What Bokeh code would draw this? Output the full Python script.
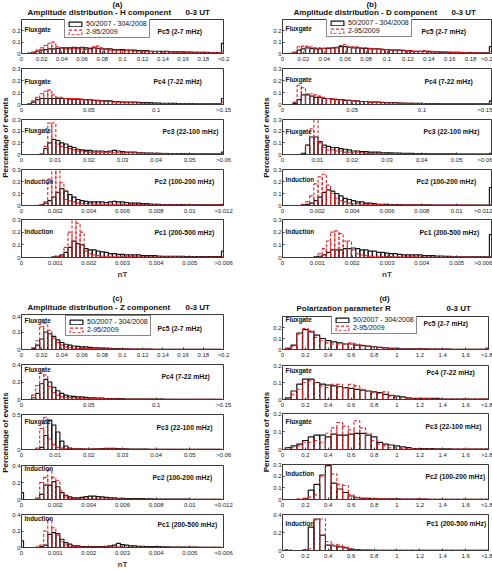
import numpy as np
from bokeh.plotting import figure
from bokeh.layouts import column, row
from bokeh.models import (ColumnDataSource, FixedTicker, CustomJSTickFormatter,
                          Label, Legend, LegendItem, Range1d)
from bokeh.embed import file_html
from bokeh.resources import INLINE

# ------------------------------------------------------------------ data
SERIES_LABELS = ["50/2007 - 304/2008", "2-95/2009"]
BANDS = ["Pc5 (2-7 mHz)", "Pc4 (7-22 mHz)", "Pc3 (22-100 mHz)",
         "Pc2 (100-200 mHz)", "Pc1 (200-500 mHz)"]
SENSORS = ["Fluxgate", "Fluxgate", "Fluxgate", "Induction", "Induction"]
PANEL_TAGS = ["(a)", "(b)", "(c)", "(d)"]
PANEL_TITLES = ["Amplitude distribution - H component",
                "Amplitude distribution - D component",
                "Amplitude distribution - Z component",
                "Polarization parameter R"]
TIME_LABEL = "0-3 UT"
X_UNIT = "nT"
Y_TITLE = "Percentage of events"

AMP_XMAX = [0.2, 0.15, 0.06, 0.012, 0.006]
AMP_NBINS = 50
R_XMAX = 1.8
R_BIN = 0.05

AMP_XTICKS = [
    [0, 0.02, 0.04, 0.06, 0.08, 0.1, 0.12, 0.14, 0.16, 0.18, 0.2],
    [0, 0.05, 0.1, 0.15],
    [0, 0.01, 0.02, 0.03, 0.04, 0.05, 0.06],
    [0, 0.002, 0.004, 0.006, 0.008, 0.01, 0.012],
    [0, 0.001, 0.002, 0.003, 0.004, 0.005, 0.006],
]
AMP_XLABELS = [
    ["0", "0.02", "0.04", "0.06", "0.08", "0.1", "0.12", "0.14", "0.16", "0.18", ">0.2"],
    ["0", "0.05", "0.1", ">0.15"],
    ["0", "0.01", "0.02", "0.03", "0.04", "0.05", ">0.06"],
    ["0", "0.002", "0.004", "0.006", "0.008", "0.01", ">0.012"],
    ["0", "0.001", "0.002", "0.003", "0.004", "0.005", ">0.006"],
]
R_XTICKS = [0, 0.2, 0.4, 0.6, 0.8, 1.0, 1.2, 1.4, 1.6, 1.8]
R_XLABELS = ["0", "0.2", "0.4", "0.6", "0.8", "1", "1.2", "1.4", "1.6", ">1.8"]

H_YMAX = [0.3, 0.3, 0.3, 0.3, 0.3]
D_YMAX = [0.3, 0.3, 0.3, 0.3, 0.3]
Z_YMAX = [0.4, 0.4, 0.5, 0.4, 0.4]
R_YMAX = [0.3, 0.2, 0.2, 0.3, 0.4]
H_YTICKS = [[0, 0.1, 0.2], [0, 0.1, 0.2, 0.3], [0, 0.1, 0.2, 0.3], [0, 0.1, 0.2, 0.3], [0, 0.1, 0.2, 0.3]]
D_YTICKS = [[0, 0.1, 0.2], [0, 0.1, 0.2, 0.3], [0, 0.1, 0.2, 0.3], [0, 0.1, 0.2, 0.3], [0, 0.1, 0.2, 0.3]]
Z_YTICKS = [[0, 0.2, 0.4], [0, 0.2, 0.4], [0, 0.5], [0, 0.2, 0.4], [0, 0.2, 0.4]]
R_YTICKS = [[0, 0.1, 0.2], [0, 0.1, 0.2], [0, 0.1, 0.2], [0, 0.1, 0.2, 0.3], [0, 0.2, 0.4]]

# ---- (a) H component, 51 bins each (last bin = overflow)
H_PC5_BLACK = [0, 0, 0.003, 0.01, 0.02, 0.03, 0.035, 0.04, 0.04, 0.045,
               0.05, 0.05, 0.05, 0.055, 0.05, 0.055, 0.05, 0.045, 0.05, 0.045,
               0.04, 0.04, 0.04, 0.035, 0.035, 0.035, 0.03, 0.03, 0.03, 0.025,
               0.025, 0.025, 0.02, 0.02, 0.02, 0.02, 0.018, 0.015, 0.015, 0.015,
               0.015, 0.012, 0.012, 0.01, 0.01, 0.01, 0.01, 0.008, 0.008, 0.008,
               0.09]
H_PC5_RED = [0, 0, 0, 0.01, 0.03, 0.05, 0.07, 0.09, 0.1, 0.06,
             0.05, 0.04, 0.04, 0.045, 0.04, 0.04, 0.035, 0.04, 0.06, 0.065,
             0.05, 0.04, 0.03, 0.03, 0.03, 0.025, 0.025, 0.025, 0.02, 0.02,
             0.02, 0.02, 0.02, 0.018, 0.018, 0.015, 0.015, 0.015, 0.012, 0.012,
             0.012, 0.01, 0.01, 0.01, 0.01, 0.008, 0.008, 0.008, 0.008, 0.008,
             0.02]
H_PC4_BLACK = [0, 0, 0.005, 0.02, 0.04, 0.05, 0.05, 0.05, 0.05, 0.05,
               0.05, 0.05, 0.045, 0.045, 0.045, 0.04, 0.04, 0.04, 0.035, 0.035,
               0.03, 0.03, 0.03, 0.025, 0.025, 0.02, 0.02, 0.02, 0.02, 0.018,
               0.015, 0.015, 0.015, 0.012, 0.012, 0.01, 0.01, 0.01, 0.01, 0.008,
               0.008, 0.008, 0.008, 0.006, 0.006, 0.006, 0.005, 0.005, 0.005, 0.005,
               0.05]
H_PC4_RED = [0, 0, 0.005, 0.03, 0.06, 0.09, 0.11, 0.12, 0.08, 0.06,
             0.06, 0.05, 0.05, 0.05, 0.05, 0.045, 0.04, 0.04, 0.035, 0.03,
             0.03, 0.025, 0.025, 0.02, 0.02, 0.02, 0.015, 0.015, 0.015, 0.012,
             0.01, 0.01, 0.01, 0.01, 0.008, 0.008, 0.008, 0.006, 0.006, 0.006,
             0.005, 0.005, 0.005, 0.004, 0.004, 0.004, 0.004, 0.003, 0.003, 0.003,
             0.02]
H_PC3_BLACK = [0, 0, 0, 0, 0, 0.002, 0.05, 0.1, 0.13, 0.12,
               0.1, 0.09, 0.07, 0.06, 0.045, 0.04, 0.035, 0.035, 0.03, 0.03,
               0.03, 0.025, 0.03, 0.035, 0.03, 0.025, 0.02, 0.02, 0.02, 0.015,
               0.015, 0.012, 0.012, 0.01, 0.01, 0.008, 0.008, 0.008, 0.008, 0.008,
               0.008, 0.005, 0.005, 0.005, 0.005, 0.005, 0.005, 0.005, 0.005, 0.005,
               0.02]
H_PC3_RED = [0, 0, 0, 0, 0, 0.005, 0.07, 0.27, 0.27, 0.09,
             0.07, 0.06, 0.05, 0.04, 0.03, 0.03, 0.025, 0.02, 0.02, 0.02,
             0.02, 0.02, 0.02, 0.015, 0.015, 0.015, 0.015, 0.015, 0.015, 0.012,
             0.012, 0.01, 0.01, 0.01, 0.01, 0.01, 0.01, 0.008, 0.008, 0.008,
             0.006, 0.005, 0.005, 0.005, 0.005, 0.005, 0.005, 0.005, 0.005, 0.005,
             0.01]
H_PC2_BLACK = [0, 0, 0, 0, 0, 0.005, 0.02, 0.04, 0.07, 0.11,
               0.14, 0.12, 0.09, 0.07, 0.05, 0.04, 0.035, 0.03, 0.03, 0.03,
               0.03, 0.025, 0.03, 0.035, 0.03, 0.03, 0.025, 0.02, 0.02, 0.02,
               0.015, 0.015, 0.012, 0.01, 0.01, 0.008, 0.008, 0.008, 0.008, 0.008,
               0.008, 0.005, 0.005, 0.005, 0.005, 0.005, 0.005, 0.005, 0.005, 0.005,
               0.01]
H_PC2_RED = [0, 0, 0, 0, 0, 0.005, 0.03, 0.22, 0.3, 0.3,
             0.19, 0.05, 0.04, 0.03, 0.02, 0.015, 0.015, 0.015, 0.01, 0.01,
             0.01, 0.01, 0.01, 0.01, 0.01, 0.01, 0.008, 0.008, 0.008, 0.008,
             0.006, 0.006, 0.006, 0.005, 0.005, 0.005, 0.005, 0.005, 0.005, 0.005,
             0.004, 0.004, 0.004, 0.004, 0.004, 0.003, 0.003, 0.003, 0.003, 0.003,
             0.005]
H_PC1_BLACK = [0, 0, 0, 0, 0, 0, 0, 0, 0.005, 0.01,
               0.02, 0.04, 0.08, 0.13, 0.11, 0.1, 0.07, 0.06, 0.06, 0.05,
               0.045, 0.04, 0.03, 0.03, 0.025, 0.025, 0.02, 0.02, 0.02, 0.02,
               0.015, 0.015, 0.015, 0.015, 0.012, 0.01, 0.01, 0.01, 0.01, 0.01,
               0.01, 0.008, 0.008, 0.008, 0.008, 0.008, 0.008, 0.008, 0.008, 0.008,
               0.05]
H_PC1_RED = [0, 0, 0, 0, 0, 0, 0, 0, 0, 0.005,
             0.01, 0.08, 0.2, 0.3, 0.27, 0.2, 0.05, 0.03, 0.02, 0.015,
             0.01, 0.01, 0.01, 0.01, 0.01, 0.01, 0.008, 0.008, 0.008, 0.006,
             0.006, 0.005, 0.005, 0.005, 0.005, 0.005, 0.005, 0.005, 0.005, 0.005,
             0.004, 0.004, 0.004, 0.004, 0.004, 0.004, 0.004, 0.004, 0.004, 0.004,
             0.005]

# ---- (b) D component
D_PC5_BLACK = [0, 0, 0.002, 0.01, 0.03, 0.04, 0.05, 0.045, 0.04, 0.04,
               0.045, 0.045, 0.05, 0.055, 0.06, 0.06, 0.055, 0.05, 0.05, 0.045,
               0.045, 0.04, 0.04, 0.04, 0.035, 0.035, 0.03, 0.03, 0.03, 0.025,
               0.025, 0.02, 0.02, 0.02, 0.02, 0.018, 0.015, 0.015, 0.012, 0.012,
               0.01, 0.01, 0.01, 0.008, 0.008, 0.008, 0.008, 0.006, 0.006, 0.006,
               0.06]
D_PC5_RED = [0, 0, 0, 0.01, 0.06, 0.065, 0.065, 0.06, 0.05, 0.05,
             0.045, 0.05, 0.05, 0.05, 0.07, 0.08, 0.06, 0.06, 0.06, 0.05,
             0.05, 0.045, 0.04, 0.04, 0.04, 0.035, 0.03, 0.03, 0.03, 0.03,
             0.025, 0.025, 0.02, 0.02, 0.025, 0.02, 0.02, 0.015, 0.015, 0.015,
             0.01, 0.01, 0.01, 0.01, 0.008, 0.008, 0.008, 0.006, 0.006, 0.006,
             0.02]
D_PC4_BLACK = [0, 0, 0, 0.01, 0.04, 0.08, 0.08, 0.07, 0.06, 0.06,
               0.05, 0.05, 0.045, 0.04, 0.04, 0.035, 0.035, 0.03, 0.03, 0.025,
               0.025, 0.02, 0.02, 0.02, 0.018, 0.015, 0.015, 0.015, 0.012, 0.012,
               0.01, 0.01, 0.01, 0.01, 0.008, 0.008, 0.008, 0.008, 0.006, 0.006,
               0.006, 0.006, 0.005, 0.005, 0.005, 0.005, 0.005, 0.005, 0.005, 0.005,
               0.03]
D_PC4_RED = [0, 0, 0, 0.02, 0.16, 0.14, 0.09, 0.09, 0.08, 0.07,
             0.06, 0.05, 0.05, 0.045, 0.04, 0.04, 0.035, 0.03, 0.03, 0.025,
             0.025, 0.02, 0.02, 0.02, 0.015, 0.015, 0.015, 0.012, 0.012, 0.01,
             0.01, 0.01, 0.008, 0.008, 0.008, 0.006, 0.006, 0.006, 0.005, 0.005,
             0.005, 0.005, 0.004, 0.004, 0.004, 0.004, 0.003, 0.003, 0.003, 0.003,
             0.01]
D_PC3_BLACK = [0, 0, 0, 0, 0, 0.01, 0.08, 0.15, 0.15, 0.11,
               0.08, 0.07, 0.06, 0.06, 0.05, 0.045, 0.04, 0.03, 0.03, 0.025,
               0.025, 0.02, 0.02, 0.02, 0.015, 0.015, 0.015, 0.012, 0.012, 0.01,
               0.01, 0.01, 0.008, 0.008, 0.008, 0.006, 0.006, 0.006, 0.005, 0.005,
               0.005, 0.005, 0.004, 0.004, 0.004, 0.004, 0.003, 0.003, 0.003, 0.003,
               0.01]
D_PC3_RED = [0, 0, 0, 0, 0, 0.005, 0.08, 0.22, 0.3, 0.1,
             0.06, 0.04, 0.04, 0.03, 0.03, 0.02, 0.02, 0.015, 0.015, 0.015,
             0.01, 0.01, 0.01, 0.01, 0.01, 0.01, 0.008, 0.008, 0.008, 0.006,
             0.006, 0.006, 0.005, 0.005, 0.005, 0.005, 0.005, 0.004, 0.004, 0.004,
             0.004, 0.004, 0.003, 0.003, 0.003, 0.003, 0.003, 0.003, 0.003, 0.003,
             0.005]
D_PC2_BLACK = [0, 0, 0, 0, 0, 0.005, 0.01, 0.02, 0.04, 0.07,
               0.11, 0.13, 0.12, 0.1, 0.08, 0.06, 0.05, 0.04, 0.03, 0.03,
               0.02, 0.02, 0.015, 0.01, 0.01, 0.01, 0.008, 0.008, 0.008, 0.006,
               0.006, 0.006, 0.005, 0.005, 0.005, 0.005, 0.004, 0.004, 0.004, 0.004,
               0.004, 0.003, 0.003, 0.003, 0.003, 0.003, 0.003, 0.003, 0.003, 0.003,
               0.15]
D_PC2_RED = [0, 0, 0, 0, 0, 0.01, 0.03, 0.08, 0.18, 0.24,
             0.26, 0.17, 0.1, 0.06, 0.04, 0.03, 0.02, 0.015, 0.015, 0.01,
             0.01, 0.01, 0.008, 0.008, 0.008, 0.006, 0.006, 0.005, 0.005, 0.005,
             0.005, 0.004, 0.004, 0.004, 0.004, 0.003, 0.003, 0.003, 0.003, 0.003,
             0.003, 0.003, 0.003, 0.003, 0.003, 0.002, 0.002, 0.002, 0.002, 0.002,
             0.005]
D_PC1_BLACK = [0, 0, 0, 0, 0, 0, 0, 0, 0.005, 0.01,
               0.02, 0.04, 0.06, 0.06, 0.06, 0.07, 0.07, 0.075, 0.07, 0.06,
               0.06, 0.05, 0.05, 0.04, 0.04, 0.035, 0.03, 0.03, 0.025, 0.02,
               0.02, 0.02, 0.02, 0.02, 0.015, 0.015, 0.015, 0.012, 0.012, 0.01,
               0.01, 0.005, 0.005, 0.005, 0.005, 0.005, 0.005, 0.005, 0.005, 0.005,
               0.18]
D_PC1_RED = [0, 0, 0, 0, 0, 0, 0, 0, 0, 0.03,
             0.07, 0.13, 0.2, 0.21, 0.19, 0.13, 0.13, 0.06, 0.03, 0.02,
             0.015, 0.01, 0.01, 0.01, 0.008, 0.008, 0.008, 0.006, 0.006, 0.005,
             0.005, 0.005, 0.005, 0.004, 0.004, 0.004, 0.004, 0.004, 0.003, 0.003,
             0.003, 0.003, 0.003, 0.003, 0.003, 0.003, 0.003, 0.003, 0.003, 0.003,
             0.005]

# ---- (c) Z component
Z_PC5_BLACK = [0, 0, 0, 0.01, 0.05, 0.12, 0.2, 0.18, 0.15, 0.11,
               0.08, 0.06, 0.05, 0.04, 0.035, 0.03, 0.03, 0.025, 0.02, 0.02,
               0.015, 0.015, 0.012, 0.01, 0.01, 0.008, 0.008, 0.006, 0.006, 0.005,
               0.005, 0.004, 0.004, 0.003, 0.003, 0.003, 0.003, 0.002, 0.002, 0.002,
               0.002, 0.002, 0.002, 0.002, 0.002, 0.002, 0.002, 0.002, 0.002, 0.002,
               0]
Z_PC5_RED = [0, 0, 0, 0.02, 0.1, 0.26, 0.3, 0.22, 0.13, 0.08,
             0.05, 0.03, 0.02, 0.015, 0.015, 0.012, 0.012, 0.01, 0.01, 0.01,
             0.008, 0.008, 0.008, 0.006, 0.006, 0.006, 0.005, 0.005, 0.005, 0.005,
             0.004, 0.004, 0.004, 0.003, 0.003, 0.003, 0.003, 0.003, 0.002, 0.002,
             0.002, 0.002, 0.002, 0.002, 0.002, 0.002, 0.002, 0.002, 0.002, 0.002,
             0]
Z_PC4_BLACK = [0, 0, 0, 0.02, 0.07, 0.18, 0.23, 0.2, 0.14, 0.1,
               0.07, 0.05, 0.04, 0.035, 0.03, 0.03, 0.025, 0.02, 0.02, 0.015,
               0.015, 0.01, 0.01, 0.01, 0.01, 0.01, 0.005, 0.005, 0.005, 0.005,
               0.005, 0.005, 0.005, 0.005, 0.005, 0.005, 0.002, 0.002, 0.002, 0.002,
               0.002, 0.002, 0.002, 0.002, 0.002, 0.002, 0.002, 0.002, 0.002, 0.002,
               0]
Z_PC4_RED = [0, 0, 0, 0.05, 0.16, 0.3, 0.28, 0.15, 0.08, 0.05,
             0.03, 0.025, 0.02, 0.02, 0.015, 0.015, 0.015, 0.012, 0.012, 0.01,
             0.01, 0.008, 0.008, 0.008, 0.006, 0.006, 0.006, 0.005, 0.005, 0.005,
             0.004, 0.004, 0.004, 0.003, 0.003, 0.003, 0.002, 0.002, 0.002, 0.002,
             0.002, 0.002, 0.002, 0.002, 0.002, 0.002, 0.002, 0.002, 0.002, 0.002,
             0]
Z_PC3_BLACK = [0, 0, 0, 0, 0, 0.03, 0.2, 0.42, 0.35, 0.25,
               0.12, 0.05, 0.02, 0.01, 0.01, 0.008, 0.006, 0.006, 0.008, 0.01,
               0.012, 0.015, 0.015, 0.015, 0.012, 0.01, 0.008, 0.006, 0.005, 0.005,
               0.004, 0.004, 0.003, 0.003, 0.003, 0.003, 0.002, 0.002, 0.002, 0.002,
               0.002, 0.002, 0.002, 0.002, 0.002, 0.002, 0.002, 0.002, 0.002, 0.002,
               0]
Z_PC3_RED = [0, 0, 0, 0, 0.02, 0.3, 0.46, 0.15, 0.07, 0.03,
             0.02, 0.01, 0.008, 0.006, 0.005, 0.005, 0.005, 0.005, 0.005, 0.006,
             0.008, 0.01, 0.01, 0.01, 0.008, 0.006, 0.005, 0.004, 0.003, 0.003,
             0.003, 0.002, 0.002, 0.002, 0.002, 0.002, 0.002, 0.002, 0.002, 0.002,
             0.002, 0.002, 0.002, 0.002, 0.002, 0.002, 0.002, 0.002, 0.002, 0.002,
             0]
Z_PC2_BLACK = [0.08, 0, 0, 0, 0.005, 0.06, 0.17, 0.17, 0.21, 0.15,
               0.08, 0.05, 0.03, 0.02, 0.02, 0.025, 0.035, 0.04, 0.04, 0.035,
               0.03, 0.025, 0.02, 0.02, 0.015, 0.015, 0.01, 0.01, 0.01, 0.01,
               0.01, 0.008, 0.008, 0.006, 0.006, 0.005, 0.005, 0.005, 0.005, 0.005,
               0.004, 0.004, 0.003, 0.003, 0.003, 0.003, 0.003, 0.003, 0.003, 0.003,
               0]
Z_PC2_RED = [0, 0, 0, 0, 0.02, 0.2, 0.26, 0.35, 0.26, 0.22,
             0.1, 0.03, 0.01, 0.008, 0.006, 0.005, 0.005, 0.005, 0.005, 0.005,
             0.005, 0.005, 0.004, 0.004, 0.004, 0.003, 0.003, 0.003, 0.003, 0.003,
             0.002, 0.002, 0.002, 0.002, 0.002, 0.002, 0.002, 0.002, 0.002, 0.002,
             0.002, 0.002, 0.002, 0.002, 0.002, 0.002, 0.002, 0.002, 0.002, 0.002,
             0]
Z_PC1_BLACK = [0.08, 0, 0, 0, 0, 0.01, 0.03, 0.16, 0.18, 0.17,
               0.1, 0.06, 0.04, 0.02, 0.02, 0.01, 0.01, 0.01, 0.01, 0.01,
               0.01, 0.015, 0.02, 0.03, 0.05, 0.035, 0.03, 0.02, 0.02, 0.015,
               0.015, 0.01, 0.01, 0.01, 0.01, 0.008, 0.008, 0.006, 0.006, 0.005,
               0.005, 0.005, 0.004, 0.004, 0.003, 0.003, 0.003, 0.003, 0.003, 0.003,
               0]
Z_PC1_RED = [0, 0, 0, 0, 0.01, 0.03, 0.2, 0.34, 0.24, 0.15,
             0.07, 0.03, 0.015, 0.01, 0.008, 0.006, 0.005, 0.005, 0.005, 0.005,
             0.004, 0.004, 0.004, 0.004, 0.004, 0.004, 0.003, 0.003, 0.003, 0.003,
             0.003, 0.002, 0.002, 0.002, 0.002, 0.002, 0.002, 0.002, 0.002, 0.002,
             0.002, 0.002, 0.002, 0.002, 0.002, 0.002, 0.002, 0.002, 0.002, 0.002,
             0]

# ---- (d) polarization parameter R, 37 bins (last bin = overflow)
R_PC5_BLACK = [0, 0.01, 0.04, 0.15, 0.18, 0.16, 0.13, 0.1, 0.08, 0.07,
               0.06, 0.05, 0.05, 0.04, 0.035, 0.03, 0.025, 0.02, 0.015, 0.01,
               0.01, 0.005, 0.005, 0.005, 0.005, 0.005, 0.003, 0.003, 0.003, 0.003,
               0.002, 0.002, 0.002, 0.002, 0.002, 0.002, 0.01]
R_PC5_RED = [0, 0.01, 0.03, 0.14, 0.19, 0.17, 0.11, 0.08, 0.06, 0.05,
             0.05, 0.05, 0.06, 0.05, 0.04, 0.03, 0.02, 0.02, 0.015, 0.01,
             0.01, 0.005, 0.005, 0.005, 0.005, 0.005, 0.003, 0.003, 0.003, 0.003,
             0.002, 0.002, 0.002, 0.002, 0.002, 0.002, 0.01]
R_PC4_BLACK = [0, 0.01, 0.05, 0.09, 0.12, 0.12, 0.1, 0.09, 0.085, 0.08,
               0.075, 0.07, 0.065, 0.06, 0.055, 0.05, 0.045, 0.04, 0.03, 0.025,
               0.02, 0.015, 0.01, 0.007, 0.007, 0.007, 0.007, 0.007, 0.003, 0.003,
               0.003, 0.003, 0.003, 0.003, 0.003, 0.003, 0.003]
R_PC4_RED = [0, 0.01, 0.03, 0.06, 0.1, 0.11, 0.1, 0.08, 0.07, 0.09,
             0.09, 0.07, 0.09, 0.08, 0.06, 0.05, 0.04, 0.035, 0.045, 0.02,
             0.01, 0.01, 0.005, 0.005, 0.005, 0.005, 0.005, 0.003, 0.003, 0.003,
             0.003, 0.003, 0.003, 0.003, 0.003, 0.003, 0.003]
R_PC3_BLACK = [0, 0.01, 0.02, 0.03, 0.05, 0.07, 0.08, 0.08, 0.07, 0.085,
               0.08, 0.08, 0.085, 0.09, 0.09, 0.08, 0.07, 0.04, 0.03, 0.025,
               0.02, 0.015, 0.01, 0.005, 0.005, 0.005, 0.005, 0.003, 0.003, 0.003,
               0.002, 0.002, 0.002, 0.002, 0.002, 0.002, 0.002]
R_PC3_RED = [0, 0.01, 0.01, 0.02, 0.04, 0.04, 0.05, 0.04, 0.09, 0.12,
             0.15, 0.13, 0.11, 0.16, 0.12, 0.09, 0.05, 0.03, 0.02, 0.01,
             0.01, 0.005, 0.005, 0.005, 0.003, 0.003, 0.003, 0.003, 0.002, 0.002,
             0.002, 0.002, 0.002, 0.002, 0.002, 0.002, 0.002]
R_PC2_BLACK = [0, 0, 0, 0, 0.005, 0.08, 0.13, 0.21, 0.29, 0.14,
               0.09, 0.06, 0.03, 0.015, 0.01, 0.01, 0.005, 0.005, 0.005, 0.005,
               0.005, 0.003, 0.003, 0.003, 0.003, 0.003, 0.002, 0.002, 0.002, 0.002,
               0.002, 0.002, 0.002, 0.002, 0.002, 0.002, 0.002]
R_PC2_RED = [0, 0, 0, 0.005, 0.01, 0.02, 0.04, 0.2, 0.3, 0.22,
             0.13, 0.12, 0.04, 0.02, 0.01, 0.01, 0.01, 0.008, 0.006, 0.005,
             0.005, 0.004, 0.004, 0.003, 0.003, 0.003, 0.002, 0.002, 0.002, 0.002,
             0.002, 0.002, 0.002, 0.002, 0.002, 0.002, 0.002]
R_PC1_BLACK = [0, 0, 0, 0, 0.005, 0.26, 0.35, 0.17, 0.06, 0.05,
               0.04, 0.03, 0.015, 0.01, 0.005, 0.005, 0.003, 0.003, 0.003, 0.003,
               0.002, 0.002, 0.002, 0.002, 0.002, 0.002, 0.002, 0.002, 0.002, 0.002,
               0.002, 0.002, 0.002, 0.002, 0.002, 0.002, 0.002]
R_PC1_RED = [0.01, 0.01, 0, 0, 0.005, 0.02, 0.34, 0.35, 0.1, 0.07,
             0.06, 0.04, 0.02, 0.01, 0.005, 0.005, 0.003, 0.003, 0.003, 0.003,
             0.002, 0.002, 0.002, 0.002, 0.002, 0.002, 0.002, 0.002, 0.002, 0.002,
             0.002, 0.002, 0.002, 0.002, 0.002, 0.002, 0.002]

# ------------------------------------------------------------------ styles / layout
FONT = "Liberation Sans"
BLACK = "#151515"
RED = "#dc2328"
FRAME = "#3a3a3a"
TXT = "#111111"

# per panel: title strip height, y-label strip width, subplot width, border left/right,
# rows of (height, border top, border bottom)
GEOM = {
    "a": dict(title_h=19, strip_w=9, width=237, bl=10, br=23,
              rows=[(45, 0, 10), (51, 4, 11), (50, 4, 10), (51, 4, 10), (69, 3, 28)]),
    "b": dict(title_h=19, strip_w=24, width=222, bl=12, br=1,
              rows=[(45, 0, 10), (51, 4, 11), (50, 4, 10), (51, 4, 10), (69, 3, 28)]),
    "c": dict(title_h=29, strip_w=9, width=237, bl=10, br=23,
              rows=[(46, 0, 11), (50, 4, 11), (50, 4, 11), (50, 5, 10), (61, 4, 21)]),
    "d": dict(title_h=31, strip_w=24, width=222, bl=10, br=4,
              rows=[(44, 0, 10), (50, 5, 9), (50, 3, 10), (50, 4, 10), (61, 4, 21)]),
}
# in-frame text: (sensor offset from top, band x from left, band offset from top)
TEXTPOS = {
    "a": [(11, 136, 13), (13, 132, 13), (12, 141, 13), (13, 133, 13), (12, 133, 13)],
    "b": [(10, 139, 13), (11, 142, 13), (13, 141, 13), (11, 134, 13), (12, 137, 13)],
    "c": [(6, 136, 14), (5, 140, 12), (7, 135, 13), (4, 131, 13), (7, 136, 13)],
    "d": [(4, 141, 8), (7, 144, 9), (9, 143, 14), (10, 143, 13), (9, 144, 9)],
}
# title strip: (tag x, tag y from strip bottom, title x, title y, time-label x)
TITLEPOS = {
    "a": (117, 15.5, 27, 7, 185),
    "b": (125, 15.5, 47, 7, 205),
    "c": (117, 16, 27, 7, 185),
    "d": (138, 18, 50, 8.5, 200),
}
# y-label strip: (label x, label y from strip bottom)
YLABELPOS = {"a": (4.5, 148), "b": (19.5, 148), "c": (4.5, 139), "d": (19.5, 139.5)}
LEGENDPOS = {"a": (43, 15), "b": (44, 16), "c": (44, 13), "d": (49, 15)}


def formatter(vals, labels):
    return CustomJSTickFormatter(args=dict(vals=list(vals), labels=list(labels)), code="""
        let best = 0, d = Infinity;
        for (let i = 0; i < vals.length; i++) {
            const e = Math.abs(vals[i] - tick);
            if (e < d) { d = e; best = i; }
        }
        return labels[best];
    """)


def ylabels(ticks):
    return ["0" if t == 0 else ("%g" % t) for t in ticks]


def blank(width, height):
    p = figure(width=width, height=height, x_range=Range1d(0, 1), y_range=Range1d(0, 1),
               output_backend="svg", toolbar_location=None, title=None,
               x_axis_location=None, y_axis_location=None,
               min_border_left=0, min_border_right=0, min_border_top=0, min_border_bottom=0)
    p.grid.visible = False
    p.outline_line_color = None
    p.background_fill_color = "white"
    p.border_fill_color = "white"
    return p


def title_strip(key):
    g = GEOM[key]
    k = "abcd".index(key)
    p = blank(246, g["title_h"])
    tx, ty, mx, my, ux = TITLEPOS[key]
    for txt, x, y, al in ((PANEL_TAGS[k], tx, ty, "center"), (PANEL_TITLES[k], mx, my, "left"),
                          (TIME_LABEL, ux, my, "left")):
        p.add_layout(Label(x=x, y=y, x_units="screen", y_units="screen", text=txt,
                           text_font=FONT, text_font_size="8px", text_font_style="bold",
                           text_color=TXT, text_baseline="middle", text_align=al))
    return p


def ylabel_strip(key):
    g = GEOM[key]
    h = sum(r[0] for r in g["rows"])
    p = blank(g["strip_w"], h)
    x, y = YLABELPOS[key]
    p.add_layout(Label(x=x, y=y, x_units="screen", y_units="screen", text=Y_TITLE,
                       angle=90, angle_units="deg", text_font=FONT, text_font_size="8px",
                       text_font_style="bold", text_color=TXT,
                       text_baseline="middle", text_align="center"))
    return p


def make_sub(key, i, black, red, xmax, binw, ymax, yticks, xticks, xlabels):
    g = GEOM[key]
    h, bt, bb = g["rows"][i]
    fh = h - bt - bb
    p = figure(width=g["width"], height=h, x_range=Range1d(0, xmax), y_range=Range1d(0, ymax),
               output_backend="svg", toolbar_location=None, title=None,
               min_border_left=g["bl"], min_border_right=g["br"],
               min_border_top=bt, min_border_bottom=bb)
    p.grid.visible = False
    p.outline_line_color = FRAME
    p.outline_line_width = 1
    p.background_fill_color = "white"
    p.border_fill_color = "white"
    for ax in (p.xaxis[0], p.yaxis[0]):
        ax.major_tick_in = 2
        ax.major_tick_out = 0
        ax.minor_tick_in = 0
        ax.minor_tick_out = 0
        ax.axis_line_color = FRAME
        ax.major_tick_line_color = FRAME
        ax.major_label_text_font = FONT
        ax.major_label_text_font_size = "6px"
        ax.major_label_text_color = "#222222"
        ax.major_label_standoff = 2
    p.yaxis.major_label_standoff = 1
    p.xaxis.ticker = FixedTicker(ticks=xticks, minor_ticks=[])
    p.xaxis.formatter = formatter(xticks, xlabels)
    p.yaxis.ticker = FixedTicker(ticks=yticks, minor_ticks=[])
    p.yaxis.formatter = formatter(yticks, ylabels(yticks))

    centers = np.arange(len(black)) * binw
    src_b = ColumnDataSource(dict(left=centers - binw / 2, right=centers + binw / 2, top=black))
    c2 = np.arange(len(red)) * binw
    src_r = ColumnDataSource(dict(left=c2 - binw / 2, right=c2 + binw / 2, top=red))
    rb = p.quad(left="left", right="right", top="top", bottom=0, source=src_b,
                fill_color=None, line_color=BLACK, line_width=1.2)
    rr = p.quad(left="left", right="right", top="top", bottom=0, source=src_r,
                fill_color=None, line_color=RED, line_width=1.1, line_dash="3 2")

    sy, bx, by = TEXTPOS[key][i]
    p.add_layout(Label(x=3, y=fh - sy, x_units="screen", y_units="screen", text=SENSORS[i],
                       text_font=FONT, text_font_size="6.4px", text_font_style="bold",
                       text_color=TXT, text_baseline="middle", text_align="left"))
    p.add_layout(Label(x=bx, y=fh - by, x_units="screen", y_units="screen", text=BANDS[i],
                       text_font=FONT, text_font_size="6.8px", text_font_style="bold",
                       text_color=TXT, text_baseline="middle", text_align="left"))

    if i == 0:
        lx, ly = LEGENDPOS[key]
        leg = Legend(items=[LegendItem(label=SERIES_LABELS[0], renderers=[rb]),
                            LegendItem(label=SERIES_LABELS[1], renderers=[rr])],
                     location=(lx, ly), orientation="vertical",
                     glyph_width=16, glyph_height=6, label_height=7, label_width=10,
                     padding=2, spacing=1, margin=0, label_standoff=3,
                     label_text_font=FONT, label_text_font_size="7px", label_text_color=TXT,
                     border_line_color=TXT, border_line_width=1,
                     background_fill_color="white", background_fill_alpha=1)
        p.add_layout(leg)

    if i == 4 and key in ("a", "b", "c"):
        p.xaxis.axis_label = X_UNIT
        p.xaxis.axis_label_text_font = FONT
        p.xaxis.axis_label_text_font_size = "8px"
        p.xaxis.axis_label_text_font_style = "bold"
        p.xaxis.axis_label_standoff = 1
    return p


PANELS = {
    "a": ([H_PC5_BLACK, H_PC4_BLACK, H_PC3_BLACK, H_PC2_BLACK, H_PC1_BLACK],
          [H_PC5_RED, H_PC4_RED, H_PC3_RED, H_PC2_RED, H_PC1_RED], H_YMAX, H_YTICKS),
    "b": ([D_PC5_BLACK, D_PC4_BLACK, D_PC3_BLACK, D_PC2_BLACK, D_PC1_BLACK],
          [D_PC5_RED, D_PC4_RED, D_PC3_RED, D_PC2_RED, D_PC1_RED], D_YMAX, D_YTICKS),
    "c": ([Z_PC5_BLACK, Z_PC4_BLACK, Z_PC3_BLACK, Z_PC2_BLACK, Z_PC1_BLACK],
          [Z_PC5_RED, Z_PC4_RED, Z_PC3_RED, Z_PC2_RED, Z_PC1_RED], Z_YMAX, Z_YTICKS),
    "d": ([R_PC5_BLACK, R_PC4_BLACK, R_PC3_BLACK, R_PC2_BLACK, R_PC1_BLACK],
          [R_PC5_RED, R_PC4_RED, R_PC3_RED, R_PC2_RED, R_PC1_RED], R_YMAX, R_YTICKS),
}

panels = {}
for key, (blacks, reds, ymaxs, yticks) in PANELS.items():
    subs = []
    for i in range(5):
        if key == "d":
            xmax, binw, xt, xl = R_XMAX, R_BIN, R_XTICKS, R_XLABELS
        else:
            xmax = AMP_XMAX[i]
            binw = xmax / AMP_NBINS
            xt, xl = AMP_XTICKS[i], AMP_XLABELS[i]
        subs.append(make_sub(key, i, blacks[i], reds[i], xmax, binw, ymaxs[i], yticks[i], xt, xl))
    panels[key] = column(title_strip(key),
                         row(ylabel_strip(key), column(*subs, spacing=0), spacing=0),
                         spacing=0)

layout = row(column(panels["a"], panels["c"], spacing=0),
             column(panels["b"], panels["d"], spacing=0), spacing=0)

html = file_html(layout, INLINE, title="Amplitude and polarization distributions")
open("out.html", "w").write(html)
